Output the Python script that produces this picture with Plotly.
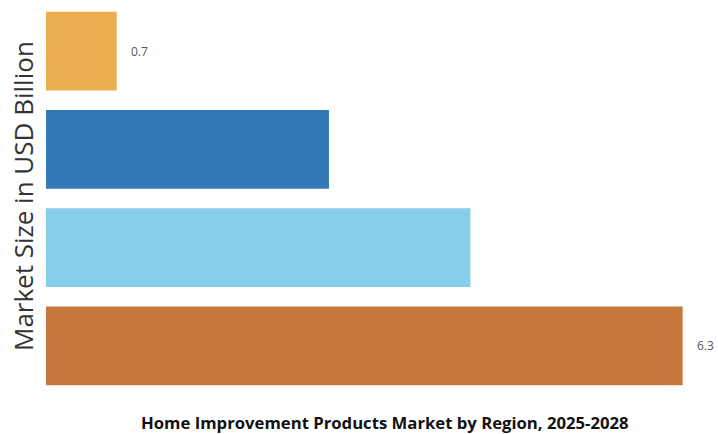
import plotly.graph_objects as go

regions = ["Region 1", "Region 2", "Region 3", "Region 4"]
values = [0.7, 2.8, 4.2, 6.3]
labels = ["0.7", "", "", "6.3"]
colors = ["#EDAE50", "#3379B5", "#87CEEB", "#C6773D"]

fig = go.Figure()
fig.add_trace(go.Bar(
    x=values, y=regions, orientation="h",
    marker=dict(color=colors, line=dict(width=0)),
    hoverinfo="skip",
))

for r, v, t in zip(regions, values, labels):
    if t:
        fig.add_annotation(x=v, y=r, xref="x", yref="y", text=t, showarrow=False,
                           xanchor="left", xshift=12,
                           font=dict(family="Open Sans", size=12, color="#555555"))

fig.add_annotation(xref="paper", yref="paper", x=-23/672, y=(434 - 39 - 196) / 393, text="Market Size in USD Billion",
                   textangle=-90, showarrow=False, xanchor="center", yanchor="middle",
                   font=dict(family="Open Sans", size=26, color="#333333"))
fig.add_annotation(xref="paper", yref="paper", x=(385-46)/672, y=0, yshift=-27,
                   text="<b>Home Improvement Products Market by Region, 2025-2028</b>",
                   showarrow=False, xanchor="center", yanchor="middle",
                   font=dict(family="Open Sans", size=16.7, color="#111111"))

fig.update_layout(
    width=718, height=434,
    margin=dict(l=46, r=0, t=2, b=39),
    paper_bgcolor="white", plot_bgcolor="white",
    bargap=0.2, showlegend=False,
    xaxis=dict(range=[0, 6.65], visible=False, fixedrange=True),
    yaxis=dict(autorange="reversed", showticklabels=False, showgrid=False,
               zeroline=False, showline=False, ticks=""),
)

fig.write_html("out.html")
